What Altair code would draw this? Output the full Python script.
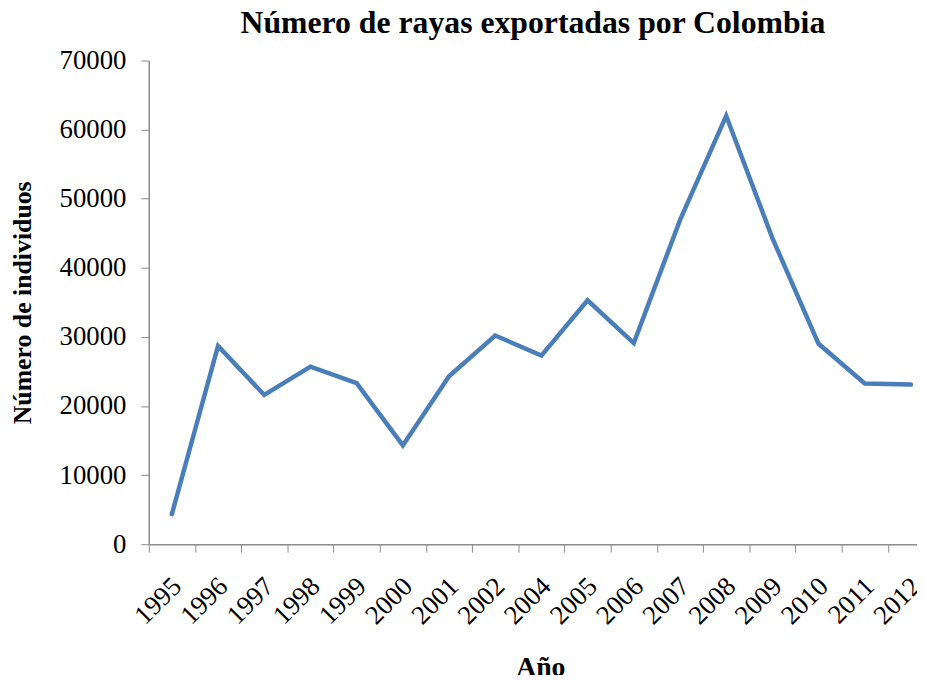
import altair as alt
import pandas as pd

years = ["1995", "1996", "1997", "1998", "1999", "2000", "2001", "2002", "2004",
         "2005", "2006", "2007", "2008", "2009", "2010", "2011", "2012"]
individuos = [4350, 28700, 21600, 25700, 23300, 14300, 24300, 30200, 27300,
              35300, 29100, 46900, 62000, 44300, 29000, 23250, 23100]

df = pd.DataFrame({"Año": years, "idx": list(range(len(years))), "Individuos": individuos})

FONT = "Liberation Serif"
WIDTH = 775
STEP = 46.6
x_max = -0.5 + WIDTH / STEP
year_array = "[" + ",".join("'" + y + "'" for y in years) + "]"

chart = (
    alt.Chart(df)
    .mark_line(color="#4a7ebb", strokeWidth=4.5, strokeJoin="miter", strokeCap="round")
    .encode(
        x=alt.X(
            "idx:Q",
            scale=alt.Scale(domain=[-0.5, x_max], nice=False, zero=False),
            axis=alt.Axis(
                title="Año",
                titleFont=FONT,
                titleFontSize=28,
                titleFontWeight="bold",
                titleColor="black",
                titlePadding=25,
                titleX=395,
                values=[i - 0.5 for i in range(len(years))],
                labelExpr=year_array + "[round(datum.value + 0.5)]",
                labelFont=FONT,
                labelFontSize=27,
                labelColor="black",
                labelAngle=-45,
                labelAlign="right",
                labelBaseline="middle",
                labelPadding=30,
                labelOffset=STEP / 2 + 5,
                labelOverlap=False,
                labelBound=False,
                labelFlush=False,
                tickSize=8,
                tickColor="#8c8c8c",
                domainColor="#8c8c8c",
                domainWidth=1.5,
                grid=False,
            ),
        ),
        y=alt.Y(
            "Individuos:Q",
            scale=alt.Scale(domain=[0, 70000], nice=False),
            axis=alt.Axis(
                title="Número de individuos",
                titleFont=FONT,
                titleFontSize=26,
                titleFontWeight="bold",
                titleColor="black",
                titlePadding=24,
                values=[0, 10000, 20000, 30000, 40000, 50000, 60000, 70000],
                format="d",
                labelFont=FONT,
                labelFontSize=27,
                labelColor="black",
                labelPadding=15,
                tickSize=8,
                tickColor="#8c8c8c",
                domainColor="#8c8c8c",
                domainWidth=1.5,
                grid=False,
            ),
        ),
    )
    .properties(
        width=WIDTH,
        height=488,
        background="white",
        title=alt.TitleParams(
            "Número de rayas exportadas por Colombia",
            font=FONT,
            fontSize=32,
            fontWeight="bold",
            color="black",
            anchor="middle",
            offset=7,
        ),
        autosize=alt.AutoSizeParams(type="none"),
        padding={"left": 142, "top": 50, "right": 0, "bottom": 129},
    )
    .configure_view(strokeWidth=0, stroke=None)
)

chart.save("out.html", embed_options={"renderer": "svg", "actions": False})
